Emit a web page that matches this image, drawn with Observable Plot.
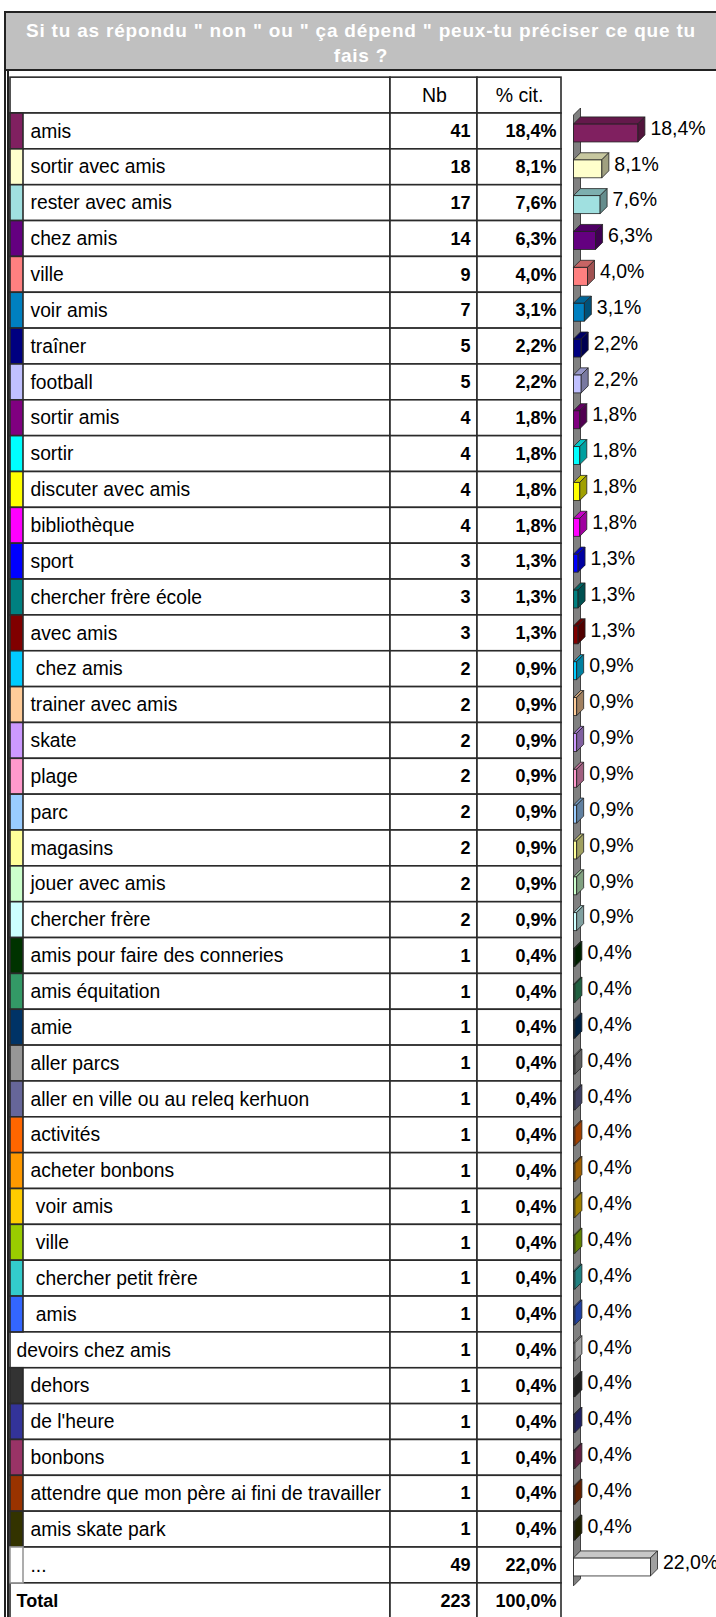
<!DOCTYPE html>
<html><head><meta charset="utf-8">
<script src="https://cdn.jsdelivr.net/npm/d3@7"></script>
<script src="https://cdn.jsdelivr.net/npm/@observablehq/plot@0.6"></script>
<style>
html,body{margin:0;padding:0;background:#fff;overflow:hidden;}
#page{position:relative;width:716px;height:1617px;font-family:"Liberation Sans",Arial,sans-serif;}
#title{position:absolute;left:4px;top:11px;width:712px;height:60px;box-sizing:border-box;background:#c0c0c0;border-top:2px solid #222;border-left:2px solid #222;border-bottom:2px solid #222;color:#fff;font-weight:bold;font-size:19px;letter-spacing:0.8px;text-align:center;line-height:25px;padding-top:4.6px;white-space:nowrap;}
#chart{position:absolute;left:0;top:71px;}
.vl{position:absolute;width:1.5px;background:#222;}
</style></head>
<body><div id="page">
<div id="title">Si tu as répondu " non " ou " ça dépend " peux-tu préciser ce que tu<br>fais ?</div>
<div class="vl" style="left:4px;top:11px;height:1606px"></div>
<div class="vl" style="left:7px;top:70px;height:1547px"></div>
<div id="chart"></div>
</div>
<script>
const labels = ["amis","sortir avec amis","rester avec amis","chez amis","ville","voir amis","traîner","football","sortir amis","sortir","discuter avec amis","bibliothèque","sport","chercher frère école","avec amis"," chez amis","trainer avec amis","skate","plage","parc","magasins","jouer avec amis","chercher frère","amis pour faire des conneries","amis équitation","amie","aller parcs","aller en ville ou au releq kerhuon","activités","acheter bonbons"," voir amis"," ville"," chercher petit frère"," amis","devoirs chez amis","dehors","de l'heure","bonbons","attendre que mon père ai fini de travailler","amis skate park","..."];
const counts = [41,18,17,14,9,7,5,5,4,4,4,4,3,3,3,2,2,2,2,2,2,2,2,1,1,1,1,1,1,1,1,1,1,1,1,1,1,1,1,1,49];
const percents = [18.4,8.1,7.6,6.3,4.0,3.1,2.2,2.2,1.8,1.8,1.8,1.8,1.3,1.3,1.3,0.9,0.9,0.9,0.9,0.9,0.9,0.9,0.9,0.4,0.4,0.4,0.4,0.4,0.4,0.4,0.4,0.4,0.4,0.4,0.4,0.4,0.4,0.4,0.4,0.4,22.0];
const colors = ["#802060","#ffffcc","#a0e0e0","#640080","#ff8080","#0080c0","#000080","#c0c0ff","#800080","#00ffff","#ffff00","#ff00ff","#0000ff","#008080","#800000","#00ccff","#ffcc99","#cc99ff","#ff99cc","#99ccff","#ffff99","#ccffcc","#ccffff","#003300","#339966","#003366","#969696","#666699","#ff6600","#ff9900","#ffcc00","#99cc00","#33cccc","#3366ff",null,"#333333","#333399","#993366","#993300","#333300","#ffffff"];
const headers = ["Nb", "% cit."];
const totalLabel = "Total";
const totalCount = 223;
const totalPct = 100.0;

const fmt = v => v.toFixed(1).replace(".", ",") + "%";
const rows = labels.map((label, i) => ({key: String(i), label, count: counts[i], pct: percents[i], color: colors[i]}));
const yDomain = ["h", ...rows.map(r => r.key), "t"];
const tableRows = [{key: "h"}, ...rows, {key: "t"}];
const FONT = "'Liberation Sans', Arial, sans-serif";
const DEPTH = 7;
const IT = 10.9, IB = 6.9;

function wallMark(index, scales) {
  const {x, y} = scales;
  const bw = y(rows[1].key) - y(rows[0].key);
  const x0 = x(0), x1 = x0 + DEPTH;
  const top = y(rows[0].key) + 2;
  const bot = y(rows[rows.length - 1].key) + bw + 3;
  const g = d3.create("svg:g");
  g.append("polygon")
    .attr("points", [[x0, top], [x1, top - DEPTH], [x1, bot - DEPTH], [x0, bot]].join(" "))
    .attr("fill", "#808080").attr("stroke", "#222").attr("stroke-width", 0.8);
  return g.node();
}

function facesMark(index, scales) {
  const {x, y} = scales;
  const bw = y(rows[1].key) - y(rows[0].key);
  const g = d3.create("svg:g");
  for (const r of rows) {
    const xa = x(0), xb = x(r.pct);
    const yt = y(r.key) + IT, yb = y(r.key) + bw - IB;
    const c = d3.color(r.color || "#ffffff");
    g.append("polygon")
      .attr("points", [[xa, yt], [xb, yt], [xb + DEPTH, yt - DEPTH], [xa + DEPTH, yt - DEPTH]].join(" "))
      .attr("fill", c.darker(0.7).formatHex()).attr("stroke", "#222").attr("stroke-width", 0.8);
    g.append("polygon")
      .attr("points", [[xb, yt], [xb + DEPTH, yt - DEPTH], [xb + DEPTH, yb - DEPTH], [xb, yb]].join(" "))
      .attr("fill", c.darker(1.3).formatHex()).attr("stroke", "#222").attr("stroke-width", 0.8);
  }
  return g.node();
}

const cellStyle = {y: "key", fill: "white", stroke: "#2a2a2a", strokeWidth: 1.6};
const txt = {fontSize: 19.3, fontFamily: FONT, fill: "#000"};
const num = {fontSize: 18, fontFamily: FONT, fill: "#000", fontWeight: "bold"};
const lab = {fontSize: 19.5, fontFamily: FONT, fill: "#000"};

const chart = Plot.plot({
  width: 716,
  height: 1548,
  marginTop: 0, marginBottom: 0, marginLeft: 0, marginRight: 0,
  style: {fontFamily: FONT, background: "transparent", overflow: "visible"},
  x: {domain: [0, 100], range: [573.5, 923.5], axis: null},
  y: {domain: yDomain, range: [6.15, 6.15 + 43 * 35.85], padding: 0, round: false, axis: null},
  color: {type: "identity"},
  marks: [
    Plot.cell(tableRows, {...cellStyle, insetLeft: 10, insetRight: 326}),
    Plot.cell(tableRows, {...cellStyle, insetLeft: 390, insetRight: 239}),
    Plot.cell(tableRows, {...cellStyle, insetLeft: 477, insetRight: 155}),
    Plot.cell(rows.filter(r => r.color), {y: "key", fill: "color", stroke: d => d.color === "#ffffff" ? "#999" : "#2a2a2a", strokeWidth: 1.6, insetLeft: 10, insetRight: 693}),
    Plot.text([{key: "h", t: headers[0]}], {y: "key", text: "t", frameAnchor: "left", dx: 434, textAnchor: "middle", ...lab}),
    Plot.text([{key: "h", t: headers[1]}], {y: "key", text: "t", frameAnchor: "left", dx: 519, textAnchor: "middle", ...lab}),
    Plot.text(rows.filter(r => r.color), {y: "key", text: d => d.label.replace(/^ /, "\u00a0"), frameAnchor: "left", dx: 30, textAnchor: "start", ...txt}),
    Plot.text(rows.filter(r => !r.color), {y: "key", text: "label", frameAnchor: "left", dx: 16, textAnchor: "start", ...txt}),
    Plot.text(rows, {y: "key", text: "count", frameAnchor: "left", dx: 470, textAnchor: "end", ...num}),
    Plot.text(rows, {y: "key", text: d => fmt(d.pct), frameAnchor: "left", dx: 556, textAnchor: "end", ...num}),
    Plot.text([{key: "t", t: totalLabel}], {y: "key", text: "t", frameAnchor: "left", dx: 16, textAnchor: "start", ...num}),
    Plot.text([{key: "t", t: String(totalCount)}], {y: "key", text: "t", frameAnchor: "left", dx: 470, textAnchor: "end", ...num}),
    Plot.text([{key: "t", t: fmt(totalPct)}], {y: "key", text: "t", frameAnchor: "left", dx: 556, textAnchor: "end", ...num}),
    wallMark,
    Plot.barX(rows, {x: "pct", y: "key", fill: d => d.color || "#ffffff", stroke: "#222", strokeWidth: 0.8, insetTop: IT, insetBottom: IB}),
    facesMark,
    Plot.text(rows, {x: "pct", y: "key", text: d => fmt(d.pct), dx: 12, dy: -3, textAnchor: "start", ...lab})
  ]
});
document.getElementById("chart").appendChild(chart);
</script>
</body></html>
